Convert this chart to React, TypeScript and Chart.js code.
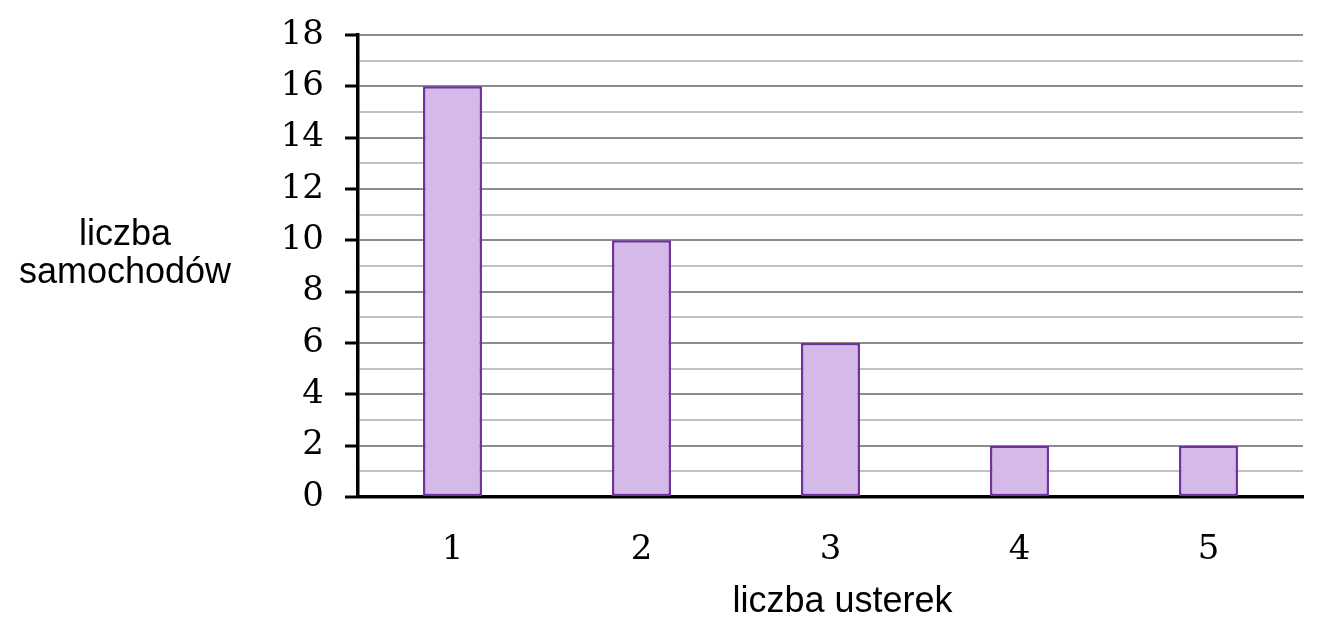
import React, { useEffect, useRef } from "react";
import { Chart, registerables } from "chart.js";

Chart.register(...registerables);

const categories = ["1", "2", "3", "4", "5"];
const carCounts = [16, 10, 6, 2, 2];
const yMin = 0;
const yMax = 18;
const yTitleLines = ["liczba", "samochodów"];
const xTitle = "liczba usterek";

const titlePlugin = {
  id: "axisTitles",
  afterDraw(chart: any) {
    const { ctx, chartArea } = chart;
    ctx.save();
    ctx.fillStyle = "#000";
    ctx.font = '36px "Liberation Sans", Arial, sans-serif';
    ctx.textAlign = "center";
    ctx.textBaseline = "alphabetic";
    const cx = 125;
    const midY = (chartArea.top + chartArea.bottom) / 2;
    ctx.fillText(yTitleLines[0], cx, midY - 21);
    ctx.fillText(yTitleLines[1], cx, midY + 17);
    ctx.fillText(xTitle, (chartArea.left + chartArea.right) / 2 + 12, chartArea.bottom + 115);
    ctx.restore();
  },
};

export default function App() {
  const ref = useRef<HTMLCanvasElement>(null);
  useEffect(() => {
    document.body.style.margin = "0";
    const canvas = ref.current!;
    const chart = new Chart(canvas, {
      type: "bar",
      data: {
        labels: categories,
        datasets: [
          {
            data: carCounts,
            backgroundColor: "#D5B9E9",
            borderColor: "#7030A0",
            borderWidth: 2.5,
            borderSkipped: false,
            barPercentage: 0.312,
            categoryPercentage: 1,
          },
        ],
      },
      options: {
        responsive: false,
        animation: false,
        layout: { padding: { top: 35, right: 25, left: 0, bottom: 0 } },
        plugins: {
          legend: { display: false },
          tooltip: { enabled: false },
        },
        scales: {
          x: {
            grid: { display: false, drawTicks: false },
            border: { display: true, color: "#000", width: 3.5 },
            ticks: {
              color: "#000",
              font: { family: '"DejaVu Serif", serif', size: 34 },
              padding: 33,
            },
            afterFit(scale: any) {
              scale.height = 135;
              scale.paddingLeft = 0;
              scale.paddingRight = 0;
            },
          },
          y: {
            min: yMin,
            max: yMax,
            border: { display: true, color: "#000", width: 3.5 },
            grid: {
              color: (c: any) =>
                c.tick && c.tick.value === 0
                  ? "#000"
                  : c.tick && c.tick.value % 2 === 0
                  ? "#8c8c8c"
                  : "#c0c0c0",
              lineWidth: 2,
              drawTicks: true,
              tickLength: 13,
              tickWidth: 3,
              tickColor: (c: any) =>
                c.tick && c.tick.value % 2 === 0 ? "#000" : "rgba(0,0,0,0)",
            },
            ticks: {
              stepSize: 1,
              autoSkip: false,
              color: "#000",
              font: { family: '"DejaVu Serif", serif', size: 34 },
              padding: 21,
              callback: (v: any) => (Number(v) % 2 === 0 ? String(v) : ""),
            },
            afterFit(scale: any) {
              scale.width = 358;
              scale.paddingTop = 0;
              scale.paddingBottom = 0;
            },
          },
        },
      },
      plugins: [titlePlugin],
    });
    return () => chart.destroy();
  }, []);
  return (
    <div style={{ position: "fixed", left: 0, top: 0, width: 1328, height: 632, background: "#fff" }}>
      <canvas ref={ref} width={1328} height={632} style={{ width: 1328, height: 632 }} />
    </div>
  );
}
